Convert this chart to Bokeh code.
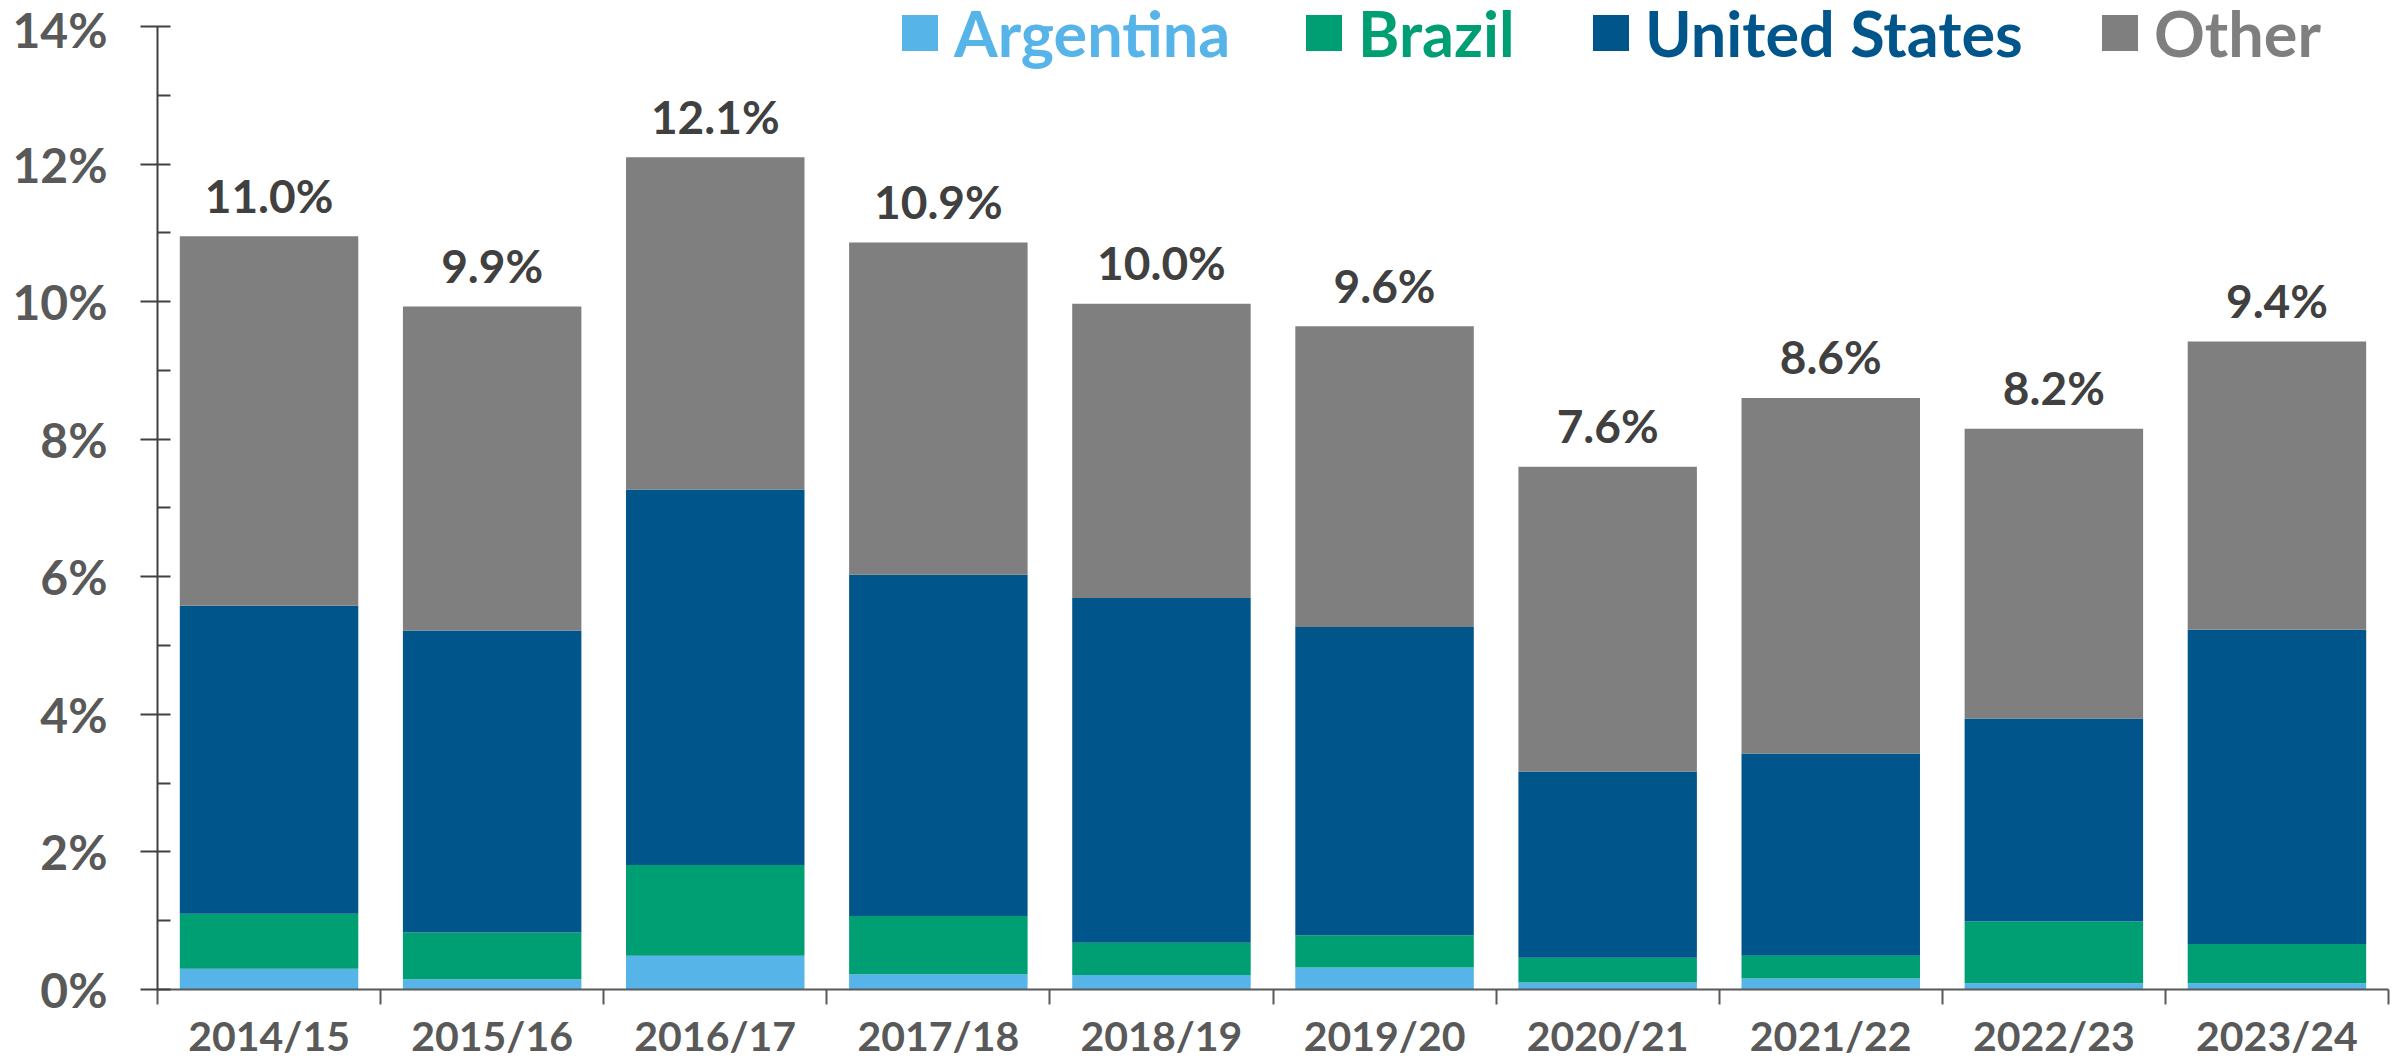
from bokeh.plotting import figure
from bokeh.models import (Range1d, LinearAxis, FixedTicker,
                          PrintfTickFormatter, Legend, LegendItem, ColumnDataSource)
from bokeh.core.properties import value
from bokeh.embed import file_html
from bokeh.resources import INLINE

# ---- data (share of world imports, %) ----
years = ["2014/15", "2015/16", "2016/17", "2017/18", "2018/19",
         "2019/20", "2020/21", "2021/22", "2022/23", "2023/24"]
argentina = [0.30, 0.15, 0.49, 0.22, 0.21, 0.32, 0.10, 0.16, 0.09, 0.09]
brazil = [0.80, 0.68, 1.32, 0.85, 0.47, 0.47, 0.36, 0.33, 0.90, 0.57]
united_states = [4.48, 4.39, 5.46, 4.96, 5.01, 4.48, 2.71, 2.94, 2.95, 4.57]
other = [5.37, 4.71, 4.83, 4.83, 4.28, 4.37, 4.43, 5.17, 4.21, 4.19]
total_labels = [11.0, 9.9, 12.1, 10.9, 10.0, 9.6, 7.6, 8.6, 8.2, 9.4]
y_ticks = [0, 2, 4, 6, 8, 10, 12, 14]

series = ["Argentina", "Brazil", "United States", "Other"]
colors = ["#56B4E9", "#009E73", "#00568A", "#7F7F7F"]

FONT = "Lato"
n = len(years)
xpos = [i + 0.5 for i in range(n)]          # category centres
tops = [a + b + u + o for a, b, u, o in zip(argentina, brazil, united_states, other)]

src = ColumnDataSource(data={
    "x": xpos,
    "Argentina": argentina,
    "Brazil": brazil,
    "United States": united_states,
    "Other": other,
    "top": tops,
    "label": [f"{t:.1f}%" for t in total_labels],
})

W, H = 2394, 1062
FRAME_H = 991
p = figure(width=W, height=H,
           x_range=Range1d(0, n),
           y_range=Range1d(0, 14.377),
           x_axis_location=None, y_axis_location=None,
           output_backend="svg", toolbar_location=None,
           min_border_left=157, min_border_right=6,
           min_border_top=0, min_border_bottom=H - FRAME_H)
p.outline_line_color = None
p.grid.visible = False
p.background_fill_color = "white"
p.border_fill_color = "white"

renderers = p.vbar_stack(series, x="x", width=0.8, color=colors,
                         line_width=0, source=src)

# y axis
yax = LinearAxis(bounds=(0, y_ticks[-1]),
                 ticker=FixedTicker(ticks=y_ticks,
                                    minor_ticks=[t + 1 for t in y_ticks[:-1]]),
                 formatter=PrintfTickFormatter(format="%d%%"))
yax.axis_line_color = "#404040"
yax.axis_line_width = 2
yax.major_tick_line_color = "#404040"
yax.major_tick_line_width = 2
yax.minor_tick_line_color = "#404040"
yax.minor_tick_line_width = 2
yax.major_tick_in = 13
yax.major_tick_out = 17
yax.minor_tick_in = 13
yax.minor_tick_out = 0
yax.major_label_standoff = 33
yax.major_label_text_font = FONT
yax.major_label_text_font_style = "bold"
yax.major_label_text_font_size = "48px"
yax.major_label_text_color = "#595959"
p.add_layout(yax, "left")

# x axis: labels at category centres, ticks at category boundaries
xax = LinearAxis(ticker=FixedTicker(ticks=xpos, minor_ticks=list(range(n + 1))),
                 major_label_overrides={x: y for x, y in zip(xpos, years)})
xax.axis_line_color = "#595959"
xax.axis_line_width = 2
xax.major_tick_in = 0
xax.major_tick_out = 0
xax.minor_tick_in = 0
xax.minor_tick_out = 15
xax.minor_tick_line_color = "#595959"
xax.minor_tick_line_width = 2
xax.major_label_standoff = 6
xax.major_label_text_font = FONT
xax.major_label_text_font_style = "bold"
xax.major_label_text_font_size = "41px"
xax.major_label_text_color = "#595959"
p.add_layout(xax, "below")

# total labels
p.text(x="x", y="top", text="label", source=src,
       text_align="center", text_baseline="alphabetic", y_offset=-41,
       text_font=value(FONT), text_font_style="bold",
       text_font_size="46px", text_color="#404040")

# legend: one per series so each label takes its series colour
legend_x = [740, 1144, 1431, 1940]
for name, color, r, lx in zip(series, colors, renderers, legend_x):
    leg = Legend(items=[LegendItem(label=name, renderers=[r])],
                 location=(lx, FRAME_H - 72), orientation="horizontal",
                 glyph_width=45, glyph_height=45, label_standoff=12,
                 label_text_font=FONT, label_text_font_style="bold",
                 label_text_font_size="63px", label_text_color=color,
                 padding=0, margin=0, spacing=0,
                 border_line_color=None, background_fill_alpha=0)
    p.add_layout(leg)

open("out.html", "w").write(file_html(p, INLINE))
